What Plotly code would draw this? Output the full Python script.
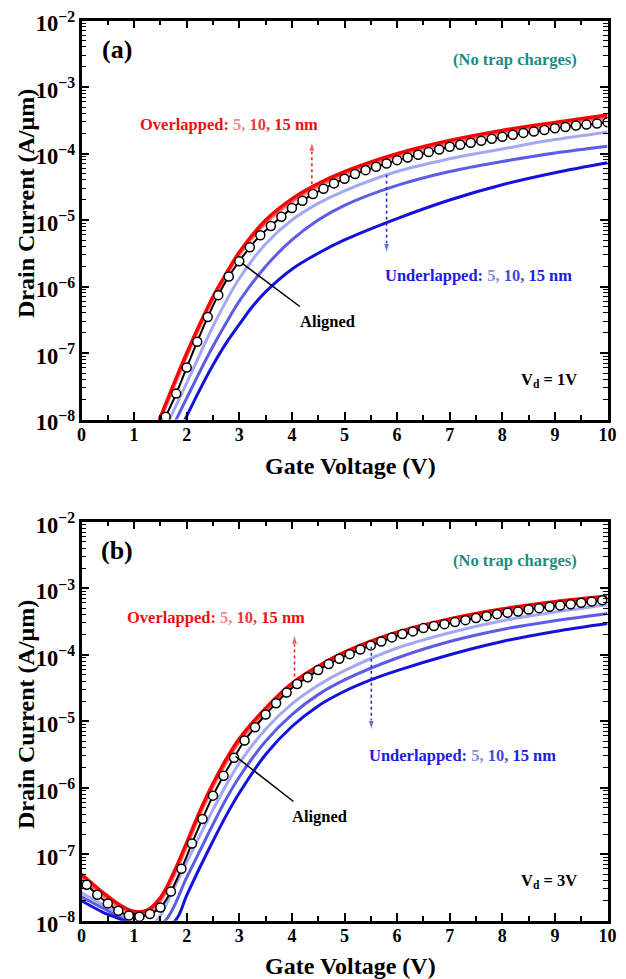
import plotly.graph_objects as go

# ---------------- DATA ----------------
# Panel (a): Vd = 1 V
vg_a_red = [1.4, 1.5, 1.75, 2.0, 2.25, 2.5, 2.75, 3.0, 3.5, 4.0, 4.5, 5.0, 6.0, 7.0, 8.0, 9.0, 10.0]
id_a_ov15 = [7.08e-9, 1.10e-8, 3.39e-8, 1.0e-7, 2.75e-7, 7.08e-7, 1.58e-6, 3.31e-6, 1.0e-5, 2.09e-5, 3.55e-5, 5.37e-5, 1.0e-4, 1.58e-4, 2.24e-4, 2.95e-4, 3.80e-4]
id_a_ov10 = [6.7e-9, 1.04e-8, 3.2e-8, 9.4e-8, 2.6e-7, 6.7e-7, 1.49e-6, 3.12e-6, 9.4e-6, 1.97e-5, 3.35e-5, 5.1e-5, 9.5e-5, 1.5e-4, 2.12e-4, 2.8e-4, 3.6e-4]
id_a_ov5 = [6.3e-9, 9.8e-9, 3.0e-8, 8.9e-8, 2.45e-7, 6.3e-7, 1.41e-6, 2.95e-6, 8.9e-6, 1.86e-5, 3.16e-5, 4.8e-5, 8.9e-5, 1.41e-4, 2.0e-4, 2.63e-4, 3.4e-4]

vg_a_al = [1.6, 1.8, 2.0, 2.2, 2.4, 2.6, 2.8, 3.0, 3.2, 3.4, 3.6, 3.8, 4.0, 4.2, 4.4, 4.6, 4.8, 5.0,
           5.2, 5.4, 5.6, 5.8, 6.0, 6.2, 6.4, 6.6, 6.8, 7.0, 7.2, 7.4, 7.6, 7.8, 8.0, 8.2, 8.4, 8.6,
           8.8, 9.0, 9.2, 9.4, 9.6, 9.8, 10.0]
id_a_al = [1.10e-8, 2.45e-8, 6.03e-8, 1.48e-7, 3.47e-7, 7.41e-7, 1.41e-6, 2.40e-6, 3.89e-6, 5.89e-6,
           8.13e-6, 1.12e-5, 1.51e-5, 1.95e-5, 2.45e-5, 2.95e-5, 3.55e-5, 4.17e-5, 4.90e-5, 5.62e-5,
           6.31e-5, 7.08e-5, 7.94e-5, 8.71e-5, 9.55e-5, 1.05e-4, 1.15e-4, 1.26e-4, 1.35e-4, 1.45e-4,
           1.55e-4, 1.66e-4, 1.78e-4, 1.91e-4, 2.04e-4, 2.14e-4, 2.26e-4, 2.40e-4, 2.51e-4, 2.63e-4,
           2.72e-4, 2.82e-4, 2.95e-4]

vg_a_un5 = [1.6, 1.67, 2.0, 2.25, 2.5, 2.75, 3.0, 3.5, 4.0, 4.5, 5.0, 6.0, 7.0, 8.0, 9.0, 10.0]
id_a_un5 = [7.6e-9, 1.0e-8, 3.55e-8, 9.55e-8, 2.51e-7, 6.03e-7, 1.32e-6, 4.37e-6, 1.0e-5, 1.78e-5, 2.75e-5, 5.37e-5, 8.32e-5, 1.17e-4, 1.62e-4, 2.09e-4]
vg_a_un10 = [1.7, 1.8, 2.0, 2.25, 2.5, 2.75, 3.0, 3.5, 4.0, 4.5, 5.0, 6.0, 7.0, 8.0, 9.0, 10.0]
id_a_un10 = [6.9e-9, 1.0e-8, 2.09e-8, 5.25e-8, 1.26e-7, 2.82e-7, 6.03e-7, 2.0e-6, 5.01e-6, 1.0e-5, 1.66e-5, 3.31e-5, 5.37e-5, 7.59e-5, 1.02e-4, 1.29e-4]
vg_a_un15 = [1.9, 1.97, 2.25, 2.5, 2.75, 3.0, 3.25, 3.5, 4.0, 4.5, 5.0, 6.0, 7.0, 8.0, 9.0, 10.0]
id_a_un15 = [7.6e-9, 1.0e-8, 2.82e-8, 6.61e-8, 1.41e-7, 2.69e-7, 5.01e-7, 8.32e-7, 1.82e-6, 3.16e-6, 5.01e-6, 1.05e-5, 2.0e-5, 3.39e-5, 5.13e-5, 7.24e-5]

# Panel (b): Vd = 3 V
vg_b_red = [0.0, 0.25, 0.5, 0.75, 1.0, 1.25, 1.5, 1.75, 2.0, 2.25, 2.5, 2.75, 3.0, 3.5, 4.0, 4.5, 5.0, 6.0, 7.0, 8.0, 9.0, 10.0]
id_b_ov15 = [5.01e-8, 3.39e-8, 2.34e-8, 1.70e-8, 1.38e-8, 1.45e-8, 2.24e-8, 5.25e-8, 1.51e-7, 4.47e-7, 1.17e-6, 2.69e-6, 5.50e-6, 1.58e-5, 3.72e-5, 6.76e-5, 1.10e-4, 2.19e-4, 3.47e-4, 4.90e-4, 6.31e-4, 7.59e-4]
id_b_ov10 = [4.6e-8, 3.15e-8, 2.2e-8, 1.6e-8, 1.3e-8, 1.35e-8, 2.08e-8, 4.9e-8, 1.4e-7, 4.15e-7, 1.09e-6, 2.5e-6, 5.1e-6, 1.47e-5, 3.45e-5, 6.3e-5, 1.02e-4, 2.04e-4, 3.23e-4, 4.55e-4, 5.9e-4, 7.1e-4]
id_b_ov5 = [4.3e-8, 2.95e-8, 2.05e-8, 1.5e-8, 1.22e-8, 1.26e-8, 1.95e-8, 4.55e-8, 1.31e-7, 3.9e-7, 1.02e-6, 2.34e-6, 4.8e-6, 1.38e-5, 3.24e-5, 5.9e-5, 9.6e-5, 1.91e-4, 3.02e-4, 4.27e-4, 5.5e-4, 6.6e-4]

vg_b_al = [0.1, 0.3, 0.5, 0.7, 0.9, 1.1, 1.3, 1.5, 1.7, 1.9, 2.1, 2.3, 2.5, 2.7, 2.9, 3.1, 3.3, 3.5,
           3.7, 3.9, 4.1, 4.3, 4.5, 4.7, 4.9, 5.1, 5.3, 5.5, 5.7, 5.9, 6.1, 6.3, 6.5, 6.7, 6.9, 7.1,
           7.3, 7.5, 7.7, 7.9, 8.1, 8.3, 8.5, 8.7, 8.9, 9.1, 9.3, 9.5, 9.7, 9.9]
id_b_al = [3.47e-8, 2.45e-8, 1.82e-8, 1.41e-8, 1.20e-8, 1.15e-8, 1.26e-8, 1.58e-8, 2.75e-8, 6.03e-8,
           1.45e-7, 3.39e-7, 7.59e-7, 1.51e-6, 2.82e-6, 5.13e-6, 8.13e-6, 1.26e-5, 1.86e-5, 2.69e-5,
           3.63e-5, 4.57e-5, 5.89e-5, 7.24e-5, 8.71e-5, 1.02e-4, 1.20e-4, 1.38e-4, 1.58e-4, 1.82e-4,
           2.04e-4, 2.24e-4, 2.51e-4, 2.69e-4, 2.88e-4, 3.09e-4, 3.31e-4, 3.55e-4, 3.80e-4, 4.07e-4,
           4.27e-4, 4.47e-4, 4.79e-4, 5.01e-4, 5.25e-4, 5.50e-4, 5.75e-4, 6.03e-4, 6.31e-4, 6.61e-4]

vg_b_un5 = [0.0, 0.5, 1.0, 1.2, 1.43, 1.75, 2.0, 2.25, 2.5, 2.75, 3.0, 3.5, 4.0, 4.5, 5.0, 6.0, 7.0, 8.0, 9.0, 10.0]
id_b_un5 = [2.63e-8, 1.58e-8, 9.55e-9, 8.3e-9, 1.0e-8, 3.02e-8, 7.59e-8, 1.91e-7, 4.68e-7, 1.10e-6, 2.34e-6, 7.59e-6, 1.82e-5, 3.47e-5, 5.75e-5, 1.26e-4, 2.14e-4, 3.24e-4, 4.37e-4, 5.62e-4]
vg_b_un10 = [0.0, 0.5, 0.85, 1.2, 1.59, 2.0, 2.25, 2.5, 2.75, 3.0, 3.5, 4.0, 4.5, 5.0, 6.0, 7.0, 8.0, 9.0, 10.0]
id_b_un10 = [2.29e-8, 1.41e-8, 1.0e-8, 7.1e-9, 1.0e-8, 4.47e-8, 1.12e-7, 2.82e-7, 6.76e-7, 1.45e-6, 5.01e-6, 1.26e-5, 2.51e-5, 4.17e-5, 8.91e-5, 1.58e-4, 2.40e-4, 3.24e-4, 4.17e-4]
vg_b_un15 = [0.0, 0.4, 0.8, 1.3, 1.78, 2.0, 2.25, 2.5, 2.75, 3.0, 3.5, 4.0, 4.5, 5.0, 5.5, 6.0, 7.0, 8.0, 9.0, 10.0]
id_b_un15 = [2.0e-8, 1.35e-8, 1.0e-8, 6.3e-9, 1.0e-8, 2.40e-8, 6.31e-8, 1.58e-7, 3.80e-7, 8.32e-7, 3.16e-6, 8.32e-6, 1.70e-5, 2.82e-5, 4.17e-5, 5.75e-5, 1.0e-4, 1.58e-4, 2.24e-4, 2.95e-4]

# arrows / pointer (x, y pairs)
arrow_a_up = ([4.38, 4.38], [2.8e-5, 1.5e-4])
arrow_a_down = ([5.8, 5.8], [4.8e-5, 3.2e-6])
arrow_b_up = ([4.05, 4.05], [4.7e-5, 2.0e-4])
arrow_b_down = ([5.51, 5.51], [1.32e-4, 7.4e-6])
pointer_a = ([3.05, 4.15], [2.24e-6, 5.0e-7])
pointer_b = ([2.93, 4.03], [2.95e-6, 6.2e-7])

# ---------------- STYLE ----------------
FONT = "Liberation Serif"
C_OV = ["#ff9a9a", "#ff4a4a", "#ff0000"]
C_UN = ["#a4a8f2", "#5c5ce8", "#1212dc"]

fig = go.Figure()


def add_panel(xa, ya, vg_red, ov, vg_al, al, un):
    for (yv, col) in zip(ov, C_OV):
        fig.add_trace(go.Scatter(x=vg_red, y=yv, mode="lines", line=dict(color=col, width=3.2, shape="spline"),
                                 xaxis=xa, yaxis=ya, showlegend=False))
    for (xv, yv), col in zip(un, C_UN):
        fig.add_trace(go.Scatter(x=xv, y=yv, mode="lines", line=dict(color=col, width=3, shape="spline"),
                                 xaxis=xa, yaxis=ya, showlegend=False))
    fig.add_trace(go.Scatter(x=vg_al, y=al, mode="lines+markers",
                             line=dict(color="black", width=2, shape="spline"),
                             marker=dict(symbol="circle", size=9, color="white", line=dict(color="black", width=1.5)),
                             xaxis=xa, yaxis=ya, showlegend=False))


add_panel("x", "y", vg_a_red, [id_a_ov5, id_a_ov10, id_a_ov15], vg_a_al, id_a_al,
          [(vg_a_un5, id_a_un5), (vg_a_un10, id_a_un10), (vg_a_un15, id_a_un15)])
add_panel("x2", "y2", vg_b_red, [id_b_ov5, id_b_ov10, id_b_ov15], vg_b_al, id_b_al,
          [(vg_b_un5, id_b_un5), (vg_b_un10, id_b_un10), (vg_b_un15, id_b_un15)])


def add_arrow(xy, col, xa, ya):
    fig.add_trace(go.Scatter(x=xy[0], y=xy[1], mode="lines+markers",
                             line=dict(color=col, width=1.6, dash="dot"),
                             marker=dict(symbol="arrow", size=[1, 10], angleref="previous", color=col),
                             xaxis=xa, yaxis=ya, showlegend=False))


add_arrow(arrow_a_up, "#ee2222", "x", "y")
add_arrow(arrow_a_down, "#2233d0", "x", "y")
add_arrow(arrow_b_up, "#ee2222", "x2", "y2")
add_arrow(arrow_b_down, "#2233d0", "x2", "y2")
for p, xa, ya in [(pointer_a, "x", "y"), (pointer_b, "x2", "y2")]:
    fig.add_trace(go.Scatter(x=p[0], y=p[1], mode="lines", line=dict(color="black", width=1.5),
                             xaxis=xa, yaxis=ya, showlegend=False))

# the page has an 8px body margin; positions below are page pixels
OFF = 8
W, H = 626 - OFF, 979 - OFF


def px(v):
    return (v - OFF) / W


def py(v):
    return 1 - (v - OFF) / H


xdom = [px(81.5), px(607.5)]
ydom_a = [py(419.5), py(20.5)]
ydom_b = [py(920.7), py(521.7)]

tickfont = dict(family=FONT, size=18, color="black", weight="bold")
common = dict(showline=True, linewidth=2.5, linecolor="black", mirror="ticks", ticks="inside",
              ticklen=8, tickwidth=2.2, tickcolor="black", showgrid=False, zeroline=False,
              tickfont=tickfont, automargin=False, ticklabeloverflow="allow")
xcommon = dict(common, range=[0, 10], tick0=0, dtick=1, ticklabelstandoff=-3,
               minor=dict(ticks="inside", ticklen=5, tickwidth=1.8, dtick=0.5, tickcolor="black", showgrid=False))
ycommon = dict(common, type="log", range=[-8, -2], dtick=1, exponentformat="power", ticklabelshift=3,
               minor=dict(ticks="inside", ticklen=5, tickwidth=1.4, dtick="D1", tickcolor="black", showgrid=False))

fig.update_layout(
    template="none",
    width=W, height=H, autosize=False,
    margin=dict(l=0, r=0, t=0, b=0, pad=0),
    paper_bgcolor="white", plot_bgcolor="white",
    xaxis=dict(xcommon, domain=xdom, anchor="y"),
    yaxis=dict(ycommon, domain=ydom_a, anchor="x"),
    xaxis2=dict(xcommon, domain=xdom, anchor="y2"),
    yaxis2=dict(ycommon, domain=ydom_b, anchor="x2"),
)

ann_font = dict(family=FONT, size=16.5, weight="bold")
ov_text = ('Overlapped: <span style="color:#f28a8a">5,</span> '
           '<span style="color:#e83c3c">10,</span> 15 nm')
un_text = ('Underlapped: <span style="color:#8c8ce0">5,</span> '
           '<span style="color:#4848de">10,</span> 15 nm')

anns = []
for xa, ya, lab, vd, ov_xy, un_xy, al_xy, nt_y in [
    ("x", "y", "(a)", "1V", (1.08, -3.56), (5.73, -5.84), (4.68, -6.52), -2.58),
    ("x2", "y2", "(b)", "3V", (0.83, -3.44), (5.42, -5.51), (4.53, -6.44), -2.58),
]:
    anns += [
        dict(xref=xa, yref=ya, x=0.68, y=-2.44, text=lab, showarrow=False,
             font=dict(family=FONT, size=26, weight="bold", color="black")),
        dict(xref=xa, yref=ya, x=9.45, y=nt_y, text="(No trap charges)", showarrow=False, xanchor="right",
             font=dict(ann_font, color="#1a8c84")),
        dict(xref=xa, yref=ya, x=ov_xy[0], y=ov_xy[1], text=ov_text, showarrow=False, xanchor="left",
             font=dict(ann_font, color="#ee1111")),
        dict(xref=xa, yref=ya, x=un_xy[0], y=un_xy[1], text=un_text, showarrow=False, xanchor="left",
             font=dict(ann_font, color="#2020dc")),
        dict(xref=xa, yref=ya, x=al_xy[0], y=al_xy[1], text="Aligned", showarrow=False,
             font=dict(ann_font, color="black")),
        dict(xref=xa, yref=ya, x=9.45, y=-7.41, text="V<sub>d</sub> = " + vd, showarrow=False, xanchor="right",
             font=dict(ann_font, color="black")),
    ]

title_font = dict(family=FONT, size=24, weight="bold", color="black")
anns += [
    dict(xref="paper", yref="paper", x=px(350), y=py(466), text="Gate Voltage (V)", showarrow=False,
         font=title_font, yanchor="middle"),
    dict(xref="paper", yref="paper", x=px(350), y=py(966), text="Gate Voltage (V)", showarrow=False,
         font=title_font, yanchor="middle"),
    dict(xref="paper", yref="paper", x=px(26), y=py(204), text="Drain Current (A/μm)", showarrow=False,
         font=title_font, textangle=-90, xanchor="center", yanchor="middle"),
    dict(xref="paper", yref="paper", x=px(26), y=py(715), text="Drain Current (A/μm)", showarrow=False,
         font=title_font, textangle=-90, xanchor="center", yanchor="middle"),
]
fig.update_layout(annotations=anns)

fig.write_html("out.html")
